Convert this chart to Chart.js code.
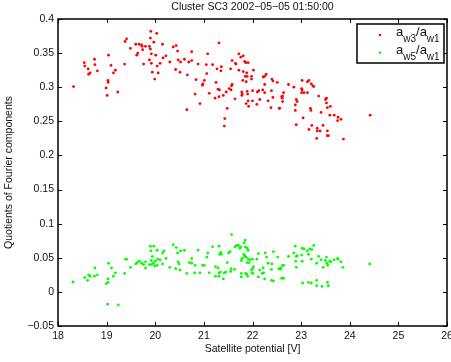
<!DOCTYPE html>
<html>
<head>
<meta charset="utf-8">
<script src="https://cdn.jsdelivr.net/npm/chart.js@4.4.0/dist/chart.umd.min.js"></script>
<style>
  html, body { margin: 0; padding: 0; background: #fff; }
  canvas { display: block; }
</style>
</head>
<body>
<canvas id="myChart" width="451" height="362"></canvas>
<script>
/* global Chart */
// a_w3/a_w1 (red)
var redX = [18.32, 18.54, 18.55, 18.62, 18.66, 18.63, 18.75, 18.76, 18.81, 19.04, 19.09, 19.03, 19.03, 18.99, 19.01,
  19.18, 19.14, 19.23, 19.37, 19.38, 19.41, 19.49, 19.60, 19.67, 19.72, 19.73, 19.80, 19.88, 19.91, 20.03, 19.90,
  19.97, 19.90, 19.74, 19.64, 19.62, 19.92, 20.01, 20.15, 20.16, 20.22, 19.88, 19.92, 19.76, 20.10, 20.04, 20.30,
  19.94, 20.06, 19.99, 20.37, 20.43, 20.46, 20.47, 20.52, 20.60, 20.42, 20.51, 20.65,
  21.31, 20.75, 21.08, 20.69, 20.75, 20.88, 21.05, 21.18, 21.36, 21.27, 21.35, 20.66, 21.06, 20.84, 21.01, 20.98,
  20.97, 21.25, 20.82, 20.92, 21.11, 21.29, 21.32, 21.23, 21.31, 21.40, 21.46, 21.52, 21.57, 21.56, 21.58, 21.64,
  21.55, 21.58, 21.65, 21.66, 21.72, 21.72, 21.76, 21.81, 21.84, 21.86, 21.91, 21.81, 21.88, 21.85, 21.89, 21.80,
  21.87, 21.98, 21.98, 22.02, 21.78, 21.78, 21.79, 21.89, 21.90, 22.00, 21.91, 21.87, 21.92, 22.00, 22.10, 22.13,
  22.15, 22.09, 22.21, 22.25, 22.22, 22.25, 22.28, 22.25, 22.32, 22.39, 22.42, 22.38, 22.40, 22.42, 22.51, 22.55,
  22.56, 21.43, 21.42, 21.48, 22.60, 22.61, 22.62, 22.62, 22.64, 22.74, 22.85, 23.01, 23.02, 23.02, 23.13, 23.16,
  23.21, 23.24, 23.01, 23.06, 23.13, 22.90, 22.92, 22.88, 22.88, 23.19, 23.20, 23.04, 22.90, 23.16, 23.22,
  23.26, 23.36, 23.52, 23.50, 23.52, 23.60, 23.54, 23.41, 23.59, 23.68, 23.76, 23.82, 23.75, 24.42, 23.45, 23.33,
  23.39, 23.33, 23.54, 23.54, 23.56, 23.32, 23.87]
var redY = [0.301, 0.336, 0.331, 0.327, 0.321, 0.319, 0.341, 0.333, 0.324, 0.347, 0.332, 0.310, 0.307, 0.299, 0.288,
  0.325, 0.321, 0.293, 0.334, 0.367, 0.371, 0.357, 0.363, 0.363, 0.362, 0.360, 0.360, 0.360, 0.382, 0.379, 0.372,
  0.366, 0.356, 0.355, 0.350, 0.347, 0.349, 0.347, 0.363, 0.343, 0.346, 0.340, 0.335, 0.334, 0.335, 0.331, 0.337,
  0.322, 0.321, 0.312, 0.359, 0.361, 0.353, 0.340, 0.337, 0.341, 0.326, 0.322, 0.267,
  0.365, 0.352, 0.349, 0.337, 0.339, 0.334, 0.333, 0.333, 0.330, 0.327, 0.324, 0.318, 0.320, 0.311, 0.310, 0.305,
  0.303, 0.307, 0.290, 0.276, 0.291, 0.297, 0.296, 0.284, 0.286, 0.288, 0.293, 0.298, 0.302, 0.296, 0.304, 0.283,
  0.327, 0.339, 0.335, 0.334, 0.325, 0.349, 0.344, 0.346, 0.338, 0.336, 0.336, 0.323, 0.321, 0.316, 0.316, 0.310,
  0.308, 0.316, 0.312, 0.325, 0.293, 0.288, 0.290, 0.294, 0.290, 0.295, 0.280, 0.276, 0.272, 0.280, 0.293, 0.295,
  0.282, 0.275, 0.296, 0.292, 0.315, 0.316, 0.319, 0.304, 0.280, 0.295, 0.285, 0.270, 0.312, 0.309, 0.307, 0.269,
  0.269, 0.254, 0.243, 0.269, 0.286, 0.284, 0.287, 0.279, 0.292, 0.304, 0.300, 0.298, 0.296, 0.310, 0.308, 0.310,
  0.305, 0.302, 0.292, 0.292, 0.292, 0.282, 0.279, 0.274, 0.266, 0.269, 0.266, 0.255, 0.245, 0.238, 0.244,
  0.301, 0.287, 0.284, 0.282, 0.277, 0.272, 0.270, 0.263, 0.259, 0.259, 0.256, 0.253, 0.251, 0.259, 0.244, 0.240,
  0.236, 0.236, 0.236, 0.229, 0.229, 0.225, 0.224]

// a_w5/a_w1 (green)
var greenX = [18.31, 18.55, 18.61, 18.63, 18.66, 18.75, 18.76, 18.81, 19.04, 19.10, 19.18, 19.14, 19.03, 19.03, 18.99,
  19.02, 19.24, 19.37, 19.39, 19.41, 19.49, 19.60, 19.63, 19.67, 19.72, 19.76, 19.80, 19.80, 19.88, 19.92, 19.96,
  19.90, 19.97, 19.91, 19.94, 19.92, 20.00, 20.04, 20.05, 19.99, 20.04, 20.15, 20.18, 20.10, 20.15, 20.22, 20.30,
  20.37, 20.43, 20.46, 20.47, 20.49, 20.42, 20.52, 20.60, 20.51, 20.65, 20.70, 20.75, 20.75, 20.82, 20.88, 20.81,
  20.92, 20.97, 21.01, 21.06, 21.08, 21.11, 21.18, 21.24, 21.31, 21.32, 21.36, 21.35, 21.24, 21.31, 21.29, 21.31,
  21.34, 21.40, 21.42, 21.45, 21.48, 21.51, 21.54, 21.55, 21.56, 21.57, 21.64, 21.67, 21.71, 21.63, 21.74, 21.76,
  21.77, 21.79, 21.77, 21.77, 21.83, 21.85, 21.82, 21.84, 21.86, 21.85, 21.89, 21.91, 21.84, 21.87, 21.91, 21.95,
  22.00, 21.89, 21.93, 22.09, 22.12, 22.02, 22.00, 21.98, 21.88, 21.90, 21.99, 22.01, 22.12, 22.20, 22.23, 22.25,
  22.15, 22.22, 22.26, 22.29, 22.32, 22.40, 22.43, 22.52, 22.39, 22.39, 22.43, 22.54, 22.57, 22.59, 22.62, 22.64,
  22.60, 22.64, 22.74, 22.88, 22.85, 22.90, 22.92, 22.89, 22.90, 23.01, 23.02, 23.02, 23.06, 23.13, 23.18, 23.22,
  23.26, 23.15, 23.21, 23.32, 23.36, 23.41, 23.50, 23.52, 23.53, 23.55, 23.45, 23.59, 23.61, 23.68, 23.75, 23.76,
  23.82, 23.86, 23.03, 23.15, 23.21, 23.32, 23.32, 23.43, 23.54, 23.56, 24.41]
var greenY = [0.0145, 0.021, 0.017, 0.025, 0.023, 0.023, 0.035, 0.025, 0.042, 0.035, 0.028, 0.023, 0.019, 0.014, 0.012,
  -0.018, -0.019, 0.027, 0.048, 0.048, 0.036, 0.041, 0.043, 0.045, 0.042, 0.040, 0.044, 0.035, 0.040, 0.040, 0.042,
  0.067, 0.067, 0.060, 0.052, 0.046, 0.045, 0.061, 0.048, 0.038, 0.039, 0.057, 0.060, 0.047, 0.041, 0.049, 0.036,
  0.069, 0.065, 0.057, 0.044, 0.041, 0.034, 0.060, 0.061, 0.032, 0.027, 0.043, 0.042, 0.049, 0.039, 0.061, 0.028,
  0.028, 0.039, 0.039, 0.051, 0.057, 0.028, 0.066, 0.037, 0.067, 0.055, 0.055, 0.058, 0.023, 0.023, 0.035, 0.028,
  0.029, 0.019, 0.028, 0.029, 0.043, 0.057, 0.059, 0.030, 0.034, 0.084, 0.066, 0.068, 0.068, 0.033, 0.064, 0.066,
  0.046, 0.049, 0.027, 0.022, 0.072, 0.076, 0.055, 0.053, 0.027, 0.066, 0.064, 0.061, 0.052, 0.051, 0.048, 0.047,
  0.048, 0.043, 0.043, 0.048, 0.056, 0.037, 0.034, 0.032, 0.026, 0.023, 0.028, 0.027, 0.022, 0.027, 0.028, 0.019,
  0.032, 0.035, 0.057, 0.051, 0.042, 0.041, 0.059, 0.051, 0.033, 0.017, 0.016, 0.034, 0.033, 0.035, 0.039, 0.039,
  0.020, 0.020, 0.052, 0.067, 0.057, 0.052, 0.053, 0.045, 0.036, 0.054, 0.045, 0.064, 0.063, 0.060, 0.063, 0.062,
  0.068, 0.055, 0.048, 0.042, 0.052, 0.047, 0.046, 0.051, 0.042, 0.039, 0.036, 0.045, 0.044, 0.047, 0.049, 0.048,
  0.044, 0.036, 0.013, 0.014, 0.013, 0.017, 0.009, 0.008, 0.014, 0.009, 0.041]

var xTicks = [18, 19, 20, 21, 22, 23, 24, 25, 26]
var yTicks = [-0.05, 0, 0.05, 0.1, 0.15, 0.2, 0.25, 0.3, 0.35, 0.4]
// legend text pieces: base, subscript, base, subscript
var legendParts = [['a', 'w3', '/a', 'w1'], ['a', 'w5', '/a', 'w1']]

function pairs (xs, ys) {
  return xs.map(function (x, i) { return { x: x, y: ys[i] } })
}

function fmtTick (v) {
  var s = String(Math.round(v * 100) / 100)
  return s.replace('-', '\u2212')
}

var FONT = '"Liberation Sans", Arial, Helvetica, sans-serif'
Chart.defaults.font.family = FONT
Chart.defaults.font.size = 10.5
Chart.defaults.color = '#111'

// matlab style box, inward ticks and the legend
var frame = {
  id: 'frame',
  afterDraw: function (chart) {
    var ctx = chart.ctx
    var a = chart.chartArea
    var sx = chart.scales.x
    var sy = chart.scales.y
    ctx.save()
    ctx.strokeStyle = '#000'
    ctx.lineWidth = 1
    ctx.beginPath()
    xTicks.forEach(function (v) {
      var px = Math.round(sx.getPixelForValue(v)) + 0.5
      ctx.moveTo(px, a.bottom); ctx.lineTo(px, a.bottom - 4)
      ctx.moveTo(px, a.top); ctx.lineTo(px, a.top + 4)
    })
    yTicks.forEach(function (v) {
      var py = Math.round(sy.getPixelForValue(v)) + 0.5
      ctx.moveTo(a.left, py); ctx.lineTo(a.left + 4, py)
      ctx.moveTo(a.right, py); ctx.lineTo(a.right - 4, py)
    })
    ctx.stroke()

    // legend box
    var lx = a.right - 90
    var ly = a.top + 5
    ctx.fillStyle = '#fff'
    ctx.fillRect(lx, ly, 87, 39)
    ctx.lineWidth = 1.5
    ctx.strokeRect(lx, ly, 87, 39)

    chart.data.datasets.forEach(function (ds, i) {
      var rowY = ly + 12 + i * 17.7
      ctx.fillStyle = ds.backgroundColor
      ctx.beginPath()
      ctx.arc(lx + 23, rowY - 1, 1.3, 0, Math.PI * 2)
      ctx.fill()
      var tx = lx + 39
      ctx.fillStyle = '#111'
      ctx.textBaseline = 'alphabetic'
      legendParts[i].forEach(function (part, k) {
        var sub = k % 2 === 1
        ctx.font = (sub ? '10px ' : '13px ') + FONT
        ctx.fillText(part, tx, rowY + (sub ? 6 : 0))
        tx += ctx.measureText(part).width
      })
    })

    // outer box on top of everything
    ctx.lineWidth = 1.5
    ctx.strokeRect(a.left, a.top, a.right - a.left, a.bottom - a.top)
    ctx.restore()
  }
}

var ctx = document.getElementById('myChart')
var myChart = new Chart(ctx, {
  type: 'scatter',
  data: {
    datasets: [
      {
        label: 'a_w3/a_w1',
        data: pairs(redX, redY),
        backgroundColor: '#ff0000',
        borderWidth: 0,
        pointRadius: 1.4
      },
      {
        label: 'a_w5/a_w1',
        data: pairs(greenX, greenY),
        backgroundColor: '#00ff00',
        borderWidth: 0,
        pointRadius: 1.4
      }
    ]
  },
  options: {
    responsive: false,
    animation: false,
    devicePixelRatio: 1,
    layout: { padding: { left: 0, right: 2, top: 0, bottom: 0 } },
    plugins: {
      legend: { display: false },
      tooltip: { enabled: false },
      title: {
        display: true,
        text: 'Cluster SC3 2002\u221205\u221205 01:50:00',
        fullSize: false,
        color: '#111',
        font: { size: 10.5, weight: 'normal' },
        padding: { top: 1, bottom: 5.4 }
      }
    },
    scales: {
      x: {
        type: 'linear',
        min: 18,
        max: 26,
        afterBuildTicks: function (s) { s.ticks = xTicks.map(function (v) { return { value: v } }) },
        afterFit: function (s) { s.height = 36; s.paddingLeft = 0; s.paddingRight = 0 },
        grid: { display: false, drawTicks: false },
        border: { display: false },
        ticks: { padding: 4, maxRotation: 0, autoSkip: false, callback: fmtTick },
        title: { display: true, text: 'Satellite potential [V]', padding: { top: 0, bottom: 7 } }
      },
      y: {
        type: 'linear',
        min: -0.05,
        max: 0.4,
        afterBuildTicks: function (s) { s.ticks = yTicks.map(function (v) { return { value: v } }) },
        afterFit: function (s) { s.width = 58; s.paddingTop = 0; s.paddingBottom = 0 },
        grid: { display: false, drawTicks: false },
        border: { display: false },
        ticks: { padding: 4, autoSkip: false, callback: fmtTick },
        title: { display: true, text: 'Quotients of Fourier components', padding: { top: 3, bottom: 0 } }
      }
    }
  },
  plugins: [frame]
})
</script>
</body>
</html>
